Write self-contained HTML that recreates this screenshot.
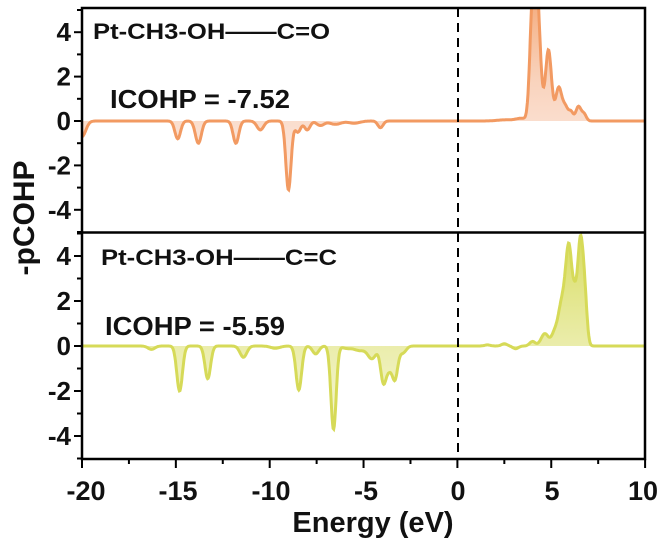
<!DOCTYPE html>
<html><head><meta charset="utf-8"><style>
html,body{margin:0;padding:0;background:#fff;}
svg{display:block;font-family:"Liberation Sans",sans-serif;}
</style></head><body>
<svg id="s" width="664" height="543" viewBox="0 0 664 543" xmlns="http://www.w3.org/2000/svg">
<defs>
<clipPath id="c1"><rect x="82" y="8" width="563" height="224"/></clipPath>
<clipPath id="c2"><rect x="82" y="233" width="563" height="226"/></clipPath>
<linearGradient id="g1" x1="0" y1="0" x2="0" y2="1"><stop offset="0" stop-color="#f29a62" stop-opacity="1"/><stop offset="0.5" stop-color="#f6c0a0" stop-opacity="0.7"/><stop offset="1" stop-color="#fbe0d4" stop-opacity="0.6"/></linearGradient>
<linearGradient id="g2" x1="0" y1="0" x2="0" y2="1"><stop offset="0" stop-color="#d8dc60" stop-opacity="1"/><stop offset="1" stop-color="#eef0b8" stop-opacity="0.6"/></linearGradient>
</defs>
<g id="d1" clip-path="url(#c1)"></g>
<g id="d2" clip-path="url(#c2)"></g>
<line x1="458" y1="8" x2="458" y2="459" stroke="#000" stroke-width="2" stroke-dasharray="9,6"/>
<rect x="82" y="8" width="563" height="451" fill="none" stroke="#000" stroke-width="2.5"/>
<line x1="82" y1="232.5" x2="645" y2="232.5" stroke="#000" stroke-width="2.5"/>
<g id="ax" stroke="#000" stroke-width="2"></g>
<g font-size="26" font-weight="bold" fill="#111" text-anchor="end" id="yl"></g>
<g font-size="27" font-weight="bold" fill="#111" text-anchor="middle">
<text x="86" y="500">-20</text><text x="178" y="500">-15</text><text x="271" y="500">-10</text><text x="366" y="500">-5</text><text x="458" y="500">0</text><text x="552" y="500">5</text><text x="643" y="500">10</text>
<text x="373" y="532" font-size="29">Energy (eV)</text>
<text transform="translate(34,218) rotate(-90)" font-size="30">-pCOHP</text>
</g>
<g font-size="22" fill="#111" font-weight="bold">
<text x="93" y="39" textLength="237" lengthAdjust="spacingAndGlyphs">Pt-CH3-OH——C=O</text>
<text x="110" y="108" font-size="26" textLength="180" lengthAdjust="spacingAndGlyphs">ICOHP = -7.52</text>
<text x="101" y="265" textLength="236" lengthAdjust="spacingAndGlyphs">Pt-CH3-OH——C=C</text>
<text x="105" y="335" font-size="26" textLength="180" lengthAdjust="spacingAndGlyphs">ICOHP = -5.59</text>
</g>
</svg>
<script>
var X=function(e){return 82+(e+20)*18.77;};
function build(id,z,sc,peaks,col,fill){
 var pts=[];
 for(var e=-20;e<=10.001;e+=0.03){
  var v=0;for(var i=0;i<peaks.length;i++){var p=peaks[i];v+=p[1]*Math.exp(-Math.pow((e-p[0])/p[2],2)/2);}
  pts.push([X(e),z-v*sc]);
 }
 var d="M"+pts.map(function(p){return p[0].toFixed(1)+","+p[1].toFixed(1);}).join("L");
 var g=document.getElementById(id);
 g.innerHTML='<path d="'+d+'L645,'+z+'L82,'+z+'Z" fill="'+fill+'"/><path d="'+d+'" fill="none" stroke="'+col+'" stroke-width="3"/>';
}
build("d1",121,22.2,[[-20,-0.7,0.2],[-14.9,-0.8,0.15],[-13.8,-1.0,0.16],[-11.8,-1.0,0.15],[-10.5,-0.4,0.18],[-9.0,-3.1,0.14],[-8.5,-0.5,0.15],[-8.0,-0.4,0.15],[-7.3,-0.2,0.2],[-6.5,-0.15,0.3],[-5.5,-0.1,0.3],[-4.1,-0.3,0.14],[2.5,0.05,0.4],[3.4,0.12,0.3],[4.0,5,0.14],[4.25,5,0.14],[4.45,0.8,0.12],[4.85,3.2,0.16],[5.4,1.5,0.16],[5.75,0.6,0.14],[6.05,0.4,0.12],[6.45,0.65,0.14],[6.75,0.3,0.12]],"#f29a62","url(#g1)");
build("d2",346,22.5,[[-16.3,-0.15,0.18],[-14.8,-2.0,0.15],[-13.3,-1.45,0.15],[-11.4,-0.5,0.18],[-9.7,-0.1,0.25],[-8.45,-1.95,0.15],[-7.55,-0.35,0.17],[-6.6,-3.7,0.14],[-5.9,-0.1,0.25],[-5.2,-0.2,0.3],[-4.55,-0.55,0.22],[-3.94,-1.6,0.15],[-3.64,-0.8,0.14],[-3.33,-1.45,0.15],[-2.9,-0.3,0.17],[1.6,0.05,0.15],[2.5,0.1,0.15],[3.1,-0.12,0.15],[4.0,0.2,0.15],[4.66,0.55,0.2],[5.15,0.45,0.15],[5.55,1.8,0.2],[5.95,4.3,0.18],[6.25,1.0,0.1],[6.55,4.7,0.16],[6.8,1.5,0.12]],"#d6da58","url(#g2)");
var ax=document.getElementById("ax"),s="";
[[121,22.2],[346,22.5]].forEach(function(p){
 for(var v=-5;v<=5;v++){var y=p[0]-v*p[1];if(y<8||y>459)continue;var L=(v%2==0)?8:5;s+='<line x1="'+(82-L)+'" y1="'+y+'" x2="82" y2="'+y+'"/>';}
});
for(var e=-20;e<=10;e+=2.5){var x=X(e);var L=(e%5==0)?9:5;s+='<line x1="'+x+'" y1="459" x2="'+x+'" y2="'+(459+L)+'"/>';}
ax.innerHTML=s;
var yl=document.getElementById("yl"),t="";
[[121,22.2],[346,22.5]].forEach(function(p){[4,2,0,-2,-4].forEach(function(v){t+='<text x="71" y="'+(p[0]-v*p[1]+9)+'">'+v+'</text>';});});
yl.innerHTML=t;
</script>
</body></html>
